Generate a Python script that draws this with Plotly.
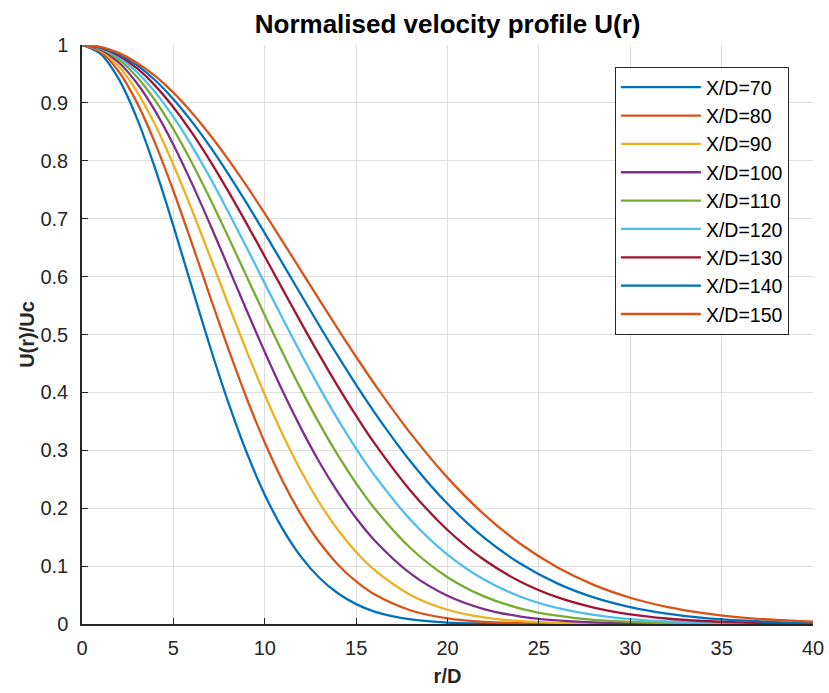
import plotly.graph_objects as go

# radial positions r/D
r = [0, 1, 2, 3, 4, 5, 6, 7, 8, 9, 10, 11, 12, 13, 14, 15, 16,
     18, 20, 22, 24, 26, 28, 30, 32, 34, 36, 38, 40]

# normalised velocity U(r)/Uc, one list per station X/D
u70 = [1.0, 0.9851, 0.9418, 0.8738, 0.7868, 0.6875, 0.5830, 0.4797, 0.3831, 0.2970, 0.2234, 0.1630, 0.1155,
       0.0794, 0.0530, 0.0343, 0.0215,
       0.0078, 0.0025, 0.0007, 0.0002, 0.0, 0.0, 0.0, 0.0, 0.0, 0.0, 0.0, 0.0]
u80 = [1.0, 0.9885, 0.9547, 0.9009, 0.8306, 0.7483, 0.6586, 0.5664, 0.4760, 0.3908, 0.3135, 0.2457, 0.1882,
       0.1408, 0.1029, 0.0735, 0.0513,
       0.0233, 0.0097, 0.0036, 0.0013, 0.0004, 0.0001, 0.0, 0.0, 0.0, 0.0, 0.0, 0.0]
u90 = [1.0, 0.9908, 0.9636, 0.9200, 0.8622, 0.7933, 0.7164, 0.6351, 0.5527, 0.4722, 0.3960, 0.3260, 0.2634,
       0.2090, 0.1627, 0.1244, 0.0933,
       0.0497, 0.0246, 0.0113, 0.0048, 0.0019, 0.0007, 0.0002, 0.0001, 0.0, 0.0, 0.0, 0.0]
u100 = [1.0, 0.9925, 0.9702, 0.9343, 0.8862, 0.8279, 0.7619, 0.6907, 0.6167, 0.5424, 0.4699, 0.4010, 0.3370,
        0.2790, 0.2276, 0.1828, 0.1447,
        0.0866, 0.0488, 0.0258, 0.0129, 0.0061, 0.0027, 0.0011, 0.0004, 0.0002, 0.0001, 0.0, 0.0]
u110 = [1.0, 0.9937, 0.9752, 0.9450, 0.9043, 0.8546, 0.7975, 0.7349, 0.6687, 0.6009, 0.5333, 0.4673, 0.4044,
        0.3456, 0.2916, 0.2430, 0.2000,
        0.1304, 0.0809, 0.0477, 0.0267, 0.0143, 0.0072, 0.0035, 0.0016, 0.0007, 0.0003, 0.0001, 0.0]
u120 = [1.0, 0.9947, 0.9790, 0.9534, 0.9186, 0.8758, 0.8261, 0.7711, 0.7121, 0.6507, 0.5883, 0.5263, 0.4658,
        0.4079, 0.3535, 0.3031, 0.2571,
        0.1792, 0.1198, 0.0767, 0.0471, 0.0277, 0.0156, 0.0084, 0.0044, 0.0022, 0.0010, 0.0005, 0.0002]
u130 = [1.0, 0.9955, 0.9820, 0.9599, 0.9299, 0.8926, 0.8491, 0.8004, 0.7476, 0.6920, 0.6348, 0.5770, 0.5197,
        0.4639, 0.4104, 0.3597, 0.3124,
        0.2294, 0.1624, 0.1109, 0.0730, 0.0463, 0.0284, 0.0167, 0.0095, 0.0052, 0.0028, 0.0014, 0.0007]
u140 = [1.0, 0.9961, 0.9844, 0.9653, 0.9391, 0.9064, 0.8681, 0.8248, 0.7776, 0.7274, 0.6750, 0.6215, 0.5678,
        0.5147, 0.4629, 0.4130, 0.3656,
        0.2799, 0.2076, 0.1492, 0.1040, 0.0702, 0.0459, 0.0291, 0.0179, 0.0106, 0.0061, 0.0034, 0.0019]
u150 = [1.0, 0.9966, 0.9863, 0.9695, 0.9465, 0.9177, 0.8836, 0.8450, 0.8025, 0.7570, 0.7091, 0.6597, 0.6096,
        0.5594, 0.5098, 0.4614, 0.4148,
        0.3283, 0.2528, 0.1894, 0.1381, 0.0979, 0.0675, 0.0453, 0.0296, 0.0188, 0.0116, 0.0070, 0.0041]

series_names = ["X/D=70", "X/D=80", "X/D=90", "X/D=100", "X/D=110",
                "X/D=120", "X/D=130", "X/D=140", "X/D=150"]
series_values = [u70, u80, u90, u100, u110, u120, u130, u140, u150]
colors = ["#0072BD", "#D95319", "#EDB120", "#7E2F8E", "#77AC30",
          "#4DBEEE", "#A2142F", "#0072BD", "#D95319"]

x_ticks = [0, 5, 10, 15, 20, 25, 30, 35, 40]
y_ticks = [0, 0.1, 0.2, 0.3, 0.4, 0.5, 0.6, 0.7, 0.8, 0.9, 1]
y_tick_labels = ["0", "0.1", "0.2", "0.3", "0.4", "0.5", "0.6", "0.7", "0.8", "0.9", "1"]

FONT = "Liberation Sans, Arial, Helvetica, sans-serif"
AX = "#262626"

fig = go.Figure()
for name, vals, col in zip(series_names, series_values, colors):
    fig.add_trace(go.Scatter(
        x=r, y=vals, name=name, mode="lines",
        line=dict(color=col, width=2.3, shape="spline", smoothing=1.0),
    ))

fig.update_layout(
    width=829, height=693,
    margin=dict(l=82, r=16, t=45, b=69, autoexpand=False),
    paper_bgcolor="white", plot_bgcolor="white",
    font=dict(family=FONT, color=AX),
    title=dict(text="<b>Normalised velocity profile U(r)</b>",
               x=0.54, xanchor="center", y=0.966, yanchor="middle",
               font=dict(size=26, color="black", family=FONT)),
    showlegend=True,
    legend=dict(x=0.729, y=0.962, xanchor="left", yanchor="top",
                bgcolor="white", bordercolor=AX, borderwidth=1,
                font=dict(size=19.5, color="black", family=FONT),
                itemwidth=80, tracegroupgap=0),
)

fig.update_xaxes(
    range=[0, 40], tickvals=x_ticks, ticktext=[str(v) for v in x_ticks],
    automargin=False,
    showgrid=True, gridcolor="#dedede", gridwidth=1,
    showline=True, linecolor=AX, linewidth=1.5, mirror=False,
    ticks="inside", ticklen=6, tickcolor=AX, tickwidth=1,
    tickfont=dict(size=20, color=AX, family=FONT), ticklabelstandoff=5,
    zeroline=False,
    title=dict(text="<b>r/D</b>", font=dict(size=20, color=AX, family=FONT), standoff=11),
)
fig.update_yaxes(
    range=[0, 1], tickvals=y_ticks, ticktext=y_tick_labels,
    automargin=False,
    showgrid=True, gridcolor="#dedede", gridwidth=1,
    showline=True, linecolor=AX, linewidth=1.5, mirror=False,
    ticks="inside", ticklen=6, tickcolor=AX, tickwidth=1,
    tickfont=dict(size=20, color=AX, family=FONT), ticklabelstandoff=8,
    zeroline=False,
    title=dict(text="<b>U(r)/Uc</b>", font=dict(size=20, color=AX, family=FONT), standoff=0),
)

fig.write_html("out.html")
